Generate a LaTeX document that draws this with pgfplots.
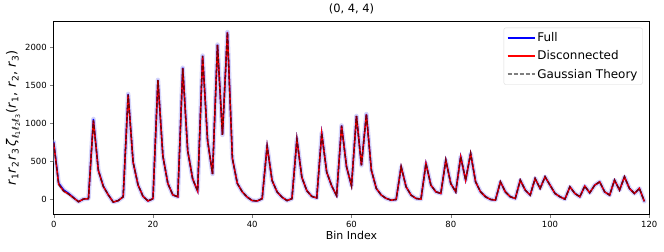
\documentclass[border=0pt]{standalone}
\usepackage{fontspec}
\setmainfont{DejaVu Sans}
\usepackage{pgfplots}
\pgfplotsset{compat=1.18}
\usepackage{pgfplotstable}

\definecolor{band}{RGB}{212,212,250}

% bin, full, disconnected, gaussian theory
\pgfplotstableread{
x full disc gauss
0 760 745 745
1 215 200 200
2 125 110 110
3 80 70 70
4 25 20 20
5 -30 -30 -30
6 5 5 5
7 10 10 10
8 1060 1040 1040
9 385 380 380
10 175 170 170
11 60 60 60
12 -35 -35 -35
13 -15 -15 -15
14 35 35 35
15 1390 1380 1380
16 490 490 490
17 190 190 190
18 40 40 40
19 -20 -20 -20
20 10 10 10
21 1575 1570 1570
22 570 570 570
23 210 210 210
24 60 60 60
25 35 35 35
26 1735 1725 1725
27 640 640 640
28 270 270 270
29 110 110 110
30 1895 1890 1890
31 780 780 780
32 335 335 335
33 2040 2035 2035
34 850 850 850
35 2205 2200 2200
36 540 540 540
37 210 210 210
38 100 100 100
39 30 30 30
40 -15 -15 -15
41 -20 -20 -20
42 10 10 10
43 705 700 700
44 250 250 250
45 100 100 100
46 30 30 30
47 -15 -15 -15
48 10 10 10
49 795 790 790
50 290 290 290
51 115 115 115
52 40 40 40
53 20 20 20
54 875 870 870
55 360 360 360
56 180 180 180
57 50 50 50
58 975 970 970
59 430 430 430
60 180 180 180
61 1100 1100 1100
62 450 450 450
63 1125 1120 1120
64 385 385 385
65 145 145 145
66 57 57 57
67 13 13 13
68 -9 -9 -9
69 0 0 0
70 430 430 430
71 166 166 166
72 57 57 57
73 13 13 13
74 4 4 4
75 475 473 473
76 188 188 188
77 100 100 100
78 79 79 79
79 520 517 517
80 210 210 210
81 100 100 100
82 565 561 561
83 254 254 254
84 605 605 605
85 232 232 232
86 100 100 100
87 35 35 35
88 0 0 0
89 -9 -9 -9
90 232 232 232
91 100 100 100
92 35 35 35
93 13 13 13
94 254 254 254
95 123 123 123
96 57 57 57
97 276 276 276
98 145 145 145
99 298 298 298
100 188 188 188
101 79 79 79
102 35 35 35
103 4 4 4
104 166 166 166
105 79 79 79
106 35 35 35
107 175 175 175
108 88 88 88
109 188 188 188
110 232 232 232
111 100 100 100
112 57 57 57
113 254 254 254
114 123 123 123
115 298 298 298
116 145 145 145
117 79 79 79
118 145 145 145
119 -25 -25 -25
}\bindata

\begin{document}
\begin{tikzpicture}
\begin{axis}[
  scale only axis,
  width=595.6bp, height=193.6bp,
  xmin=0, xmax=120, ymin=-200, ymax=2350,
  xtick={0,20,...,120}, ytick={0,500,...,2000},
  tick align=outside, tick pos=left,
  major tick length=3.5bp,
  /pgf/number format/assume math mode=true,
  /pgf/number format/1000 sep={},
  tick label style={font=\fontsize{8.5}{10}\selectfont},
  title={(0, 4, 4)},
  title style={font=\fontsize{11.5}{13}\selectfont, yshift=-2bp},
  xlabel={Bin Index},
  xlabel style={font=\fontsize{11}{13}\selectfont, yshift=4bp},
  ylabel={\textit{r}\textsubscript{1}\textit{r}\textsubscript{2}\textit{r}\textsubscript{3}\,\textit{ζ}\textsubscript{\textit{ℓ}\textsubscript{1}\textit{ℓ}\textsubscript{2}\textit{ℓ}\textsubscript{3}}(\textit{r}\textsubscript{1}, \textit{r}\textsubscript{2}, \textit{r}\textsubscript{3})},
  ylabel style={font=\fontsize{13}{15}\selectfont, yshift=-2bp},
  legend style={at={(1,1)}, anchor=north east, xshift=-6.6bp, yshift=-6.6bp,
    draw=black!15, rounded corners=2pt, font=\fontsize{12}{14}\selectfont,
    row sep=3.5bp, inner xsep=3bp, inner ysep=3bp},
  legend cell align=left,
  legend image code/.code={\draw[#1] (0bp,0bp) -- (27bp,0bp);},
]
\addplot[band, line width=4.5bp, line join=round, line cap=round, forget plot] table[x=x, y=full] {\bindata};
\addplot[blue, line width=1.5bp] table[x=x, y=full] {\bindata};
\addlegendentry{Full}
\addplot[red, line width=1.5bp] table[x=x, y=disc] {\bindata};
\addlegendentry{Disconnected}
\addplot[black, opacity=0.5, line width=1.5bp, dash pattern=on 4bp off 2bp] table[x=x, y=gauss] {\bindata};
\addlegendentry{Gaussian Theory}
\end{axis}
\path (current axis.south west) ++(-53.7bp,-36.7bp) (current axis.north east) ++(14.7bp,20.7bp);
\end{tikzpicture}
\end{document}
